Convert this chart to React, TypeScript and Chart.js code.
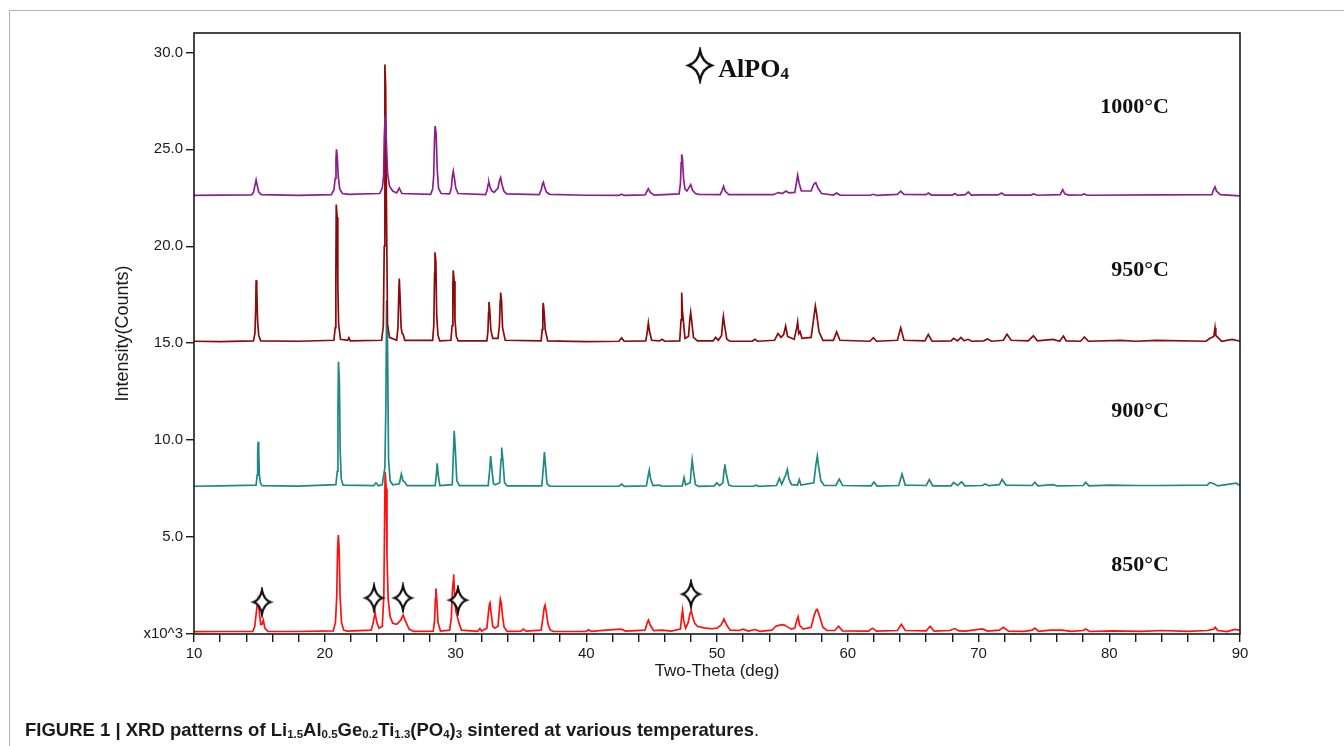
import React, { useEffect, useRef } from 'react';
import { Chart, registerables } from 'chart.js';
Chart.register(...registerables);

type P = [number, number];

// 2θ (deg) vs intensity (x10^3 counts)
const pattern1000: P[] = [
  [10, 22.62], [12, 22.64], [14.4, 22.65], [14.55, 22.78], [14.65, 23.1], [14.75, 23.42], [14.85, 23.1], [14.95, 22.8], [15.15, 22.66],
  [18, 22.62], [20.5, 22.66], [20.7, 22.9], [20.8, 23.5], [20.86, 24.5], [20.9, 25.0], [20.96, 24.6], [21.03, 23.6], [21.15, 22.95], [21.35, 22.72], [21.6, 22.7], [21.8, 22.68],
  [24.2, 22.72], [24.4, 23.0], [24.5, 23.6], [24.55, 25.6], [24.62, 26.75], [24.7, 25.6], [24.8, 23.8], [24.95, 23.1], [25.2, 22.85], [25.5, 22.75], [25.7, 23.0], [25.9, 22.72],
  [28.1, 22.68], [28.25, 22.95], [28.33, 23.6], [28.4, 25.6], [28.44, 26.2], [28.52, 25.8], [28.6, 24.0], [28.7, 23.0], [28.9, 22.72],
  [29.55, 22.7], [29.68, 23.0], [29.76, 23.6], [29.83, 23.87], [29.92, 23.5], [30.02, 23.0], [30.2, 22.72],
  [32.3, 22.66], [32.42, 22.9], [32.5, 23.2], [32.56, 23.3], [32.65, 23.05], [32.78, 22.85], [32.95, 22.78], [33.25, 23.0], [33.37, 23.4], [33.45, 23.54], [33.55, 23.2], [33.7, 22.85], [33.9, 22.7],
  [36.4, 22.66], [36.55, 22.9], [36.65, 23.2], [36.72, 23.3], [36.82, 23.05], [36.95, 22.8], [37.2, 22.68],
  [40, 22.63], [42.5, 22.62], [42.7, 22.68], [42.9, 22.62],
  [44.5, 22.65], [44.65, 22.85], [44.75, 22.97], [44.9, 22.78], [45.2, 22.64],
  [47.1, 22.7], [47.2, 23.2], [47.26, 24.3], [47.3, 24.74], [47.36, 24.5], [47.44, 23.5], [47.55, 22.95], [47.7, 22.85], [47.88, 23.05], [47.99, 23.18], [48.12, 22.9], [48.35, 22.72], [48.6, 22.68],
  [50.25, 22.66], [50.4, 22.9], [50.5, 23.09], [50.62, 22.85], [50.9, 22.66],
  [54.3, 22.66], [54.7, 22.77], [55.0, 22.72], [55.28, 22.85], [55.5, 22.75], [55.95, 22.78], [56.08, 23.3], [56.17, 23.66], [56.28, 23.25], [56.45, 22.85],
  [57.2, 22.85], [57.4, 23.2], [57.55, 23.28], [57.72, 23.0], [58.0, 22.72],
  [58.9, 22.64], [59.15, 22.75], [59.4, 22.64], [61.7, 22.63], [61.96, 22.68], [62.2, 22.62],
  [63.8, 22.68], [64.05, 22.84], [64.3, 22.68], [66.0, 22.66], [66.16, 22.75], [66.4, 22.64],
  [68.0, 22.64], [68.2, 22.72], [68.4, 22.62], [69.0, 22.66], [69.22, 22.8], [69.45, 22.64],
  [70.3, 22.65], [71.5, 22.65], [71.77, 22.75], [72.0, 22.64], [74.0, 22.64], [74.2, 22.7], [74.5, 22.63],
  [76.25, 22.66], [76.44, 22.92], [76.6, 22.7], [76.9, 22.64], [77.9, 22.65], [78.1, 22.7], [78.3, 22.63],
  [83.75, 22.65], [87.85, 22.66], [88.0, 22.95], [88.09, 23.06], [88.2, 22.85], [88.5, 22.66], [90, 22.6],
];

const pattern950: P[] = [
  [10, 15.1], [12, 15.08], [14.55, 15.12], [14.66, 15.5], [14.72, 16.8], [14.75, 18.25], [14.8, 17.8], [14.86, 16.2], [14.95, 15.4], [15.1, 15.12],
  [18, 15.1], [20.7, 15.15], [20.8, 15.8], [20.85, 18.5], [20.88, 22.15], [20.95, 21.5], [21.0, 18.0], [21.06, 16.0], [21.2, 15.2], [21.75, 15.15], [21.85, 15.28], [21.95, 15.12],
  [24.35, 15.15], [24.48, 15.9], [24.55, 20.0], [24.6, 29.38], [24.66, 28.2], [24.72, 22.0], [24.8, 16.0], [24.95, 15.3],
  [25.5, 15.15], [25.6, 15.8], [25.66, 17.5], [25.7, 18.33], [25.76, 17.4], [25.84, 15.8], [25.92, 15.5], [26.0, 15.45], [26.12, 15.15],
  [28.25, 15.15], [28.34, 15.9], [28.4, 18.6], [28.43, 19.69], [28.5, 19.2], [28.56, 16.5], [28.66, 15.4], [28.8, 15.12],
  [29.65, 15.15], [29.74, 15.9], [29.8, 18.0], [29.83, 18.76], [29.9, 18.2], [29.96, 16.2], [30.06, 15.35], [30.2, 15.12],
  [32.4, 15.12], [32.48, 15.6], [32.53, 16.6], [32.56, 17.13], [32.62, 16.7], [32.7, 15.7], [32.85, 15.25],
  [33.25, 15.25], [33.36, 15.9], [33.42, 17.2], [33.45, 17.61], [33.52, 17.2], [33.6, 15.8], [33.8, 15.15],
  [36.55, 15.12], [36.63, 15.7], [36.68, 16.7], [36.71, 17.08], [36.78, 16.6], [36.86, 15.7], [37.05, 15.12],
  [40, 15.08], [42.5, 15.1], [42.71, 15.27], [42.9, 15.1],
  [44.55, 15.12], [44.66, 15.55], [44.75, 16.05], [44.84, 15.6], [45.0, 15.15], [45.6, 15.12], [45.8, 15.2], [46.0, 15.1],
  [47.15, 15.12], [47.25, 16.2], [47.3, 17.61], [47.36, 16.6], [47.42, 16.2], [47.55, 15.25], [47.82, 15.35], [47.92, 16.2], [47.99, 16.58], [48.07, 16.1], [48.2, 15.3], [48.5, 15.12],
  [49.7, 15.12], [49.9, 15.3], [50.1, 15.15], [50.35, 15.4], [50.45, 16.2], [50.49, 16.39], [50.58, 15.9], [50.75, 15.2], [51.0, 15.1],
  [52.7, 15.1], [52.9, 15.2], [53.1, 15.1],
  [54.4, 15.15], [54.66, 15.5], [54.9, 15.3], [55.1, 15.45], [55.25, 15.88], [55.4, 15.35], [55.9, 15.2], [56.1, 15.8], [56.17, 16.1], [56.25, 15.5], [56.35, 15.6], [56.5, 15.25],
  [57.2, 15.3], [57.4, 16.3], [57.52, 16.92], [57.6, 16.6], [57.8, 15.6], [58.1, 15.15],
  [58.9, 15.15], [59.15, 15.58], [59.4, 15.15], [61.7, 15.1], [61.96, 15.28], [62.2, 15.1],
  [63.8, 15.15], [64.05, 15.79], [64.3, 15.15], [65.9, 15.12], [66.16, 15.45], [66.45, 15.1],
  [67.9, 15.12], [68.1, 15.25], [68.4, 15.12], [68.66, 15.3], [68.9, 15.12], [69.2, 15.2], [69.5, 15.1],
  [70.4, 15.12], [70.69, 15.22], [71.0, 15.1], [71.9, 15.15], [72.18, 15.46], [72.5, 15.15],
  [73.8, 15.12], [74.2, 15.38], [74.5, 15.12], [75.7, 15.2], [76.2, 15.1], [76.5, 15.37], [76.7, 15.12],
  [77.8, 15.1], [78.1, 15.32], [78.4, 15.1], [80.9, 15.15], [82, 15.1], [83.6, 15.15],
  [87.4, 15.1], [87.7, 15.25], [88.0, 15.35], [88.09, 15.8], [88.15, 15.4], [88.3, 15.3], [88.6, 15.1], [89.4, 15.2], [90, 15.1],
];

const pattern900: P[] = [
  [10, 7.62], [12, 7.64], [14.75, 7.68], [14.83, 8.2], [14.87, 9.3], [14.9, 9.92], [14.95, 9.4], [15.0, 8.2], [15.08, 7.8], [15.2, 7.65],
  [18, 7.63], [20.85, 7.7], [20.96, 8.4], [21.01, 11.5], [21.05, 14.04], [21.12, 13.0], [21.18, 9.5], [21.26, 8.0], [21.4, 7.68],
  [23.75, 7.65], [23.92, 7.8], [24.1, 7.65], [24.4, 7.7], [24.6, 8.6], [24.68, 12.0], [24.73, 17.2], [24.8, 15.0], [24.88, 9.0], [25.0, 7.9], [25.2, 7.7],
  [25.7, 7.75], [25.86, 8.25], [25.98, 7.9], [26.1, 7.85], [26.3, 7.65],
  [28.45, 7.65], [28.55, 8.3], [28.6, 8.8], [28.68, 8.2], [28.8, 7.65],
  [29.75, 7.7], [29.85, 9.5], [29.9, 10.48], [29.98, 9.6], [30.1, 7.9], [30.3, 7.65],
  [32.5, 7.65], [32.62, 8.5], [32.69, 9.18], [32.77, 8.6], [32.9, 7.75], [33.05, 7.7],
  [33.38, 7.8], [33.48, 9.0], [33.53, 9.62], [33.62, 9.0], [33.75, 7.8], [33.95, 7.64],
  [36.6, 7.64], [36.72, 8.6], [36.8, 9.38], [36.88, 8.7], [37.0, 7.75], [37.2, 7.63],
  [40, 7.62], [42.5, 7.62], [42.7, 7.73], [42.9, 7.62],
  [44.6, 7.64], [44.72, 8.1], [44.82, 8.45], [44.92, 8.0], [45.1, 7.66], [45.6, 7.68], [45.8, 7.62],
  [47.35, 7.64], [47.48, 8.07], [47.6, 7.7], [47.95, 7.8], [48.05, 8.6], [48.1, 8.97], [48.18, 8.5], [48.35, 7.7], [48.6, 7.62],
  [49.8, 7.64], [49.98, 7.8], [50.2, 7.66], [50.45, 7.8], [50.55, 8.5], [50.6, 8.75], [50.7, 8.3], [50.9, 7.68], [51.2, 7.62],
  [52.8, 7.62], [53.0, 7.68], [53.2, 7.62],
  [54.55, 7.66], [54.77, 8.03], [54.95, 7.72], [55.25, 8.2], [55.38, 8.49], [55.5, 8.0], [55.7, 7.7], [56.15, 7.68], [56.3, 7.97], [56.42, 7.68],
  [57.4, 7.8], [57.58, 8.8], [57.67, 9.18], [57.78, 8.6], [57.95, 7.9], [58.2, 7.66],
  [59.1, 7.66], [59.35, 7.99], [59.6, 7.66], [61.8, 7.64], [62.0, 7.84], [62.25, 7.63],
  [63.9, 7.66], [64.15, 8.25], [64.4, 7.68], [66.0, 7.66], [66.24, 7.97], [66.5, 7.64],
  [67.9, 7.64], [68.1, 7.82], [68.4, 7.66], [68.7, 7.85], [68.95, 7.64], [70.3, 7.66], [70.5, 7.74], [70.8, 7.65],
  [71.6, 7.7], [71.8, 7.97], [72.1, 7.68], [74.1, 7.66], [74.3, 7.82], [74.55, 7.64], [75.7, 7.7], [76.0, 7.64],
  [78.0, 7.66], [78.2, 7.82], [78.45, 7.64], [80.0, 7.68], [82.0, 7.66], [84.0, 7.66],
  [87.5, 7.68], [87.7, 7.82], [88.0, 7.75], [88.3, 7.64], [89.7, 7.78], [90, 7.66],
];

const pattern850: P[] = [
  [10, 0.12], [12, 0.13], [14.5, 0.14], [14.65, 0.4], [14.78, 1.2], [14.89, 1.73], [15.0, 1.1], [15.1, 0.5], [15.2, 0.5], [15.3, 0.72], [15.42, 0.3], [15.65, 0.14],
  [18, 0.13], [20.65, 0.16], [20.82, 0.6], [20.92, 2.0], [20.98, 4.3], [21.04, 5.1], [21.1, 4.4], [21.17, 2.0], [21.28, 0.6], [21.45, 0.2], [21.7, 0.15],
  [23.55, 0.2], [23.7, 0.55], [23.85, 1.1], [23.98, 0.6], [24.15, 0.3], [24.4, 0.4], [24.52, 2.0], [24.58, 6.0], [24.62, 8.37], [24.7, 7.5], [24.76, 4.0], [24.85, 1.8], [25.0, 0.9],
  [25.2, 0.55], [25.5, 0.5], [25.8, 0.7], [26.0, 0.98], [26.15, 0.7], [26.45, 0.25], [26.8, 0.14],
  [28.3, 0.15], [28.4, 0.7], [28.46, 1.8], [28.5, 2.35], [28.57, 1.8], [28.66, 0.6], [28.85, 0.15],
  [29.55, 0.2], [29.68, 0.8], [29.76, 2.2], [29.82, 2.7], [29.86, 3.08], [29.93, 2.0], [30.02, 1.2], [30.12, 0.95], [30.25, 0.6], [30.45, 0.2],
  [31.7, 0.14], [31.87, 0.29], [32.0, 0.15], [32.4, 0.3], [32.52, 1.1], [32.6, 1.55], [32.64, 1.61], [32.72, 1.1], [32.85, 0.4], [33.0, 0.3],
  [33.25, 0.4], [33.36, 1.3], [33.43, 1.79], [33.5, 1.6], [33.6, 0.9], [33.72, 0.35], [33.95, 0.14],
  [35.0, 0.15], [35.19, 0.25], [35.4, 0.15], [36.55, 0.2], [36.68, 0.8], [36.78, 1.35], [36.85, 1.49], [36.95, 1.1], [37.08, 0.5], [37.25, 0.2], [37.5, 0.13],
  [40.0, 0.13], [40.16, 0.22], [40.4, 0.14], [41.5, 0.2], [42.7, 0.25], [43.0, 0.15],
  [44.5, 0.2], [44.65, 0.55], [44.76, 0.72], [44.9, 0.45], [45.15, 0.18], [45.8, 0.2], [46.5, 0.15],
  [47.2, 0.25], [47.3, 0.9], [47.37, 1.24], [47.45, 0.7], [47.6, 0.3], [47.8, 0.6], [47.95, 1.1], [48.03, 1.2], [48.15, 0.85], [48.3, 0.55], [48.5, 0.4],
  [49.0, 0.32], [49.6, 0.27], [50.0, 0.3], [50.3, 0.45], [50.53, 0.77], [50.75, 0.45], [51.0, 0.2],
  [51.7, 0.18], [52.0, 0.25], [52.4, 0.15], [52.9, 0.23], [53.3, 0.14],
  [54.2, 0.2], [54.5, 0.4], [54.8, 0.46], [55.1, 0.48], [55.35, 0.38], [55.7, 0.25], [55.95, 0.3], [56.1, 0.7], [56.2, 0.89], [56.32, 0.45], [56.6, 0.25],
  [57.2, 0.35], [57.45, 1.0], [57.6, 1.25], [57.67, 1.27], [57.85, 0.9], [58.1, 0.35], [58.4, 0.18],
  [59.0, 0.18], [59.3, 0.4], [59.6, 0.16], [61.6, 0.15], [61.9, 0.3], [62.2, 0.15],
  [63.8, 0.18], [64.1, 0.5], [64.4, 0.18], [66.0, 0.16], [66.3, 0.4], [66.6, 0.15],
  [67.8, 0.18], [68.2, 0.28], [68.5, 0.16], [69.0, 0.15], [70.3, 0.26], [70.7, 0.15],
  [71.6, 0.2], [71.9, 0.34], [72.3, 0.15], [73.5, 0.14], [74.1, 0.2], [74.3, 0.3], [74.6, 0.14],
  [75.5, 0.2], [76.4, 0.2], [77.1, 0.14], [78.0, 0.18], [78.2, 0.26], [78.5, 0.13],
  [80.2, 0.16], [82.5, 0.14], [84.0, 0.18], [86.0, 0.14], [87.5, 0.18], [88.0, 0.25], [88.1, 0.35], [88.3, 0.18],
  [89.0, 0.12], [89.6, 0.24], [90, 0.2],
];

const patterns: P[][] = [pattern1000, pattern950, pattern900, pattern850];
const temperatureLabels = ['1000°C', '950°C', '900°C', '850°C'];
const seriesColors = ['#8E1E8E', '#8B0A0A', '#1E8884', '#FF1010'];
const labelY = [27.16, 18.76, 11.49, 3.56];
const labelRightX = 84.57;

// AlPO4 impurity markers on the 850 °C pattern
const alpo4Markers: P[] = [[15.2, 1.65], [23.77, 1.86], [25.98, 1.86], [30.19, 1.75], [48.01, 2.06]];
const legendMarker: P[] = [[48.7, 29.33]];
const legendTextX = 50.1;
const legendTextY = 29.2;

const xMin = 10, xMax = 90, xStep = 2, xLabelEvery = 10;
const yMin = 0, yMax = 31, yStep = 5;
const xTitle = 'Two-Theta (deg)';
const yTitle = 'Intensity(Counts)';
const yZeroLabel = 'x10^3';

function makeStar(w: number, h: number, lw: number): HTMLCanvasElement {
  const c = document.createElement('canvas');
  c.width = Math.ceil(w + lw * 2 + 2);
  c.height = Math.ceil(h + lw * 2 + 2);
  const g = c.getContext('2d')!;
  const cx = c.width / 2, cy = c.height / 2;
  const k = 0.1;
  g.beginPath();
  g.moveTo(cx, cy - h / 2);
  g.quadraticCurveTo(cx + w * k, cy - h * k, cx + w / 2, cy);
  g.quadraticCurveTo(cx + w * k, cy + h * k, cx, cy + h / 2);
  g.quadraticCurveTo(cx - w * k, cy + h * k, cx - w / 2, cy);
  g.quadraticCurveTo(cx - w * k, cy - h * k, cx, cy - h / 2);
  g.closePath();
  g.fillStyle = '#fff';
  g.fill();
  g.lineWidth = lw;
  g.lineJoin = 'miter';
  g.strokeStyle = '#111';
  g.stroke();
  return c;
}

const SANS = 'Arial, "Liberation Sans", sans-serif';
const SERIF = '"Liberation Serif", "Times New Roman", serif';

export default function App() {
  const ref = useRef<HTMLCanvasElement | null>(null);
  useEffect(() => {
    if (!ref.current) return;
    const smallStar = makeStar(17, 24, 2.2);
    const bigStar = makeStar(23, 30, 2.4);

    const annotations = {
      id: 'annotations',
      afterDatasetsDraw(chart: any) {
        const { ctx, chartArea: a, scales } = chart;
        const x = scales.x, y = scales.y;
        ctx.save();
        ctx.strokeStyle = '#1a1a1a';
        ctx.lineWidth = 1.6;
        ctx.strokeRect(a.left, a.top, a.right - a.left, a.bottom - a.top);
        ctx.fillStyle = '#111';
        ctx.font = `bold 22px ${SERIF}`;
        ctx.textAlign = 'right';
        ctx.textBaseline = 'middle';
        temperatureLabels.forEach((t, i) => {
          ctx.fillText(t, x.getPixelForValue(labelRightX), y.getPixelForValue(labelY[i]));
        });
        ctx.textAlign = 'left';
        ctx.textBaseline = 'alphabetic';
        ctx.font = `bold 26px ${SERIF}`;
        const lx = x.getPixelForValue(legendTextX);
        const ly = y.getPixelForValue(legendTextY) + 9;
        ctx.fillText('AlPO', lx, ly);
        const w = ctx.measureText('AlPO').width;
        ctx.font = `bold 17px ${SERIF}`;
        ctx.fillText('4', lx + w, ly + 2);
        ctx.restore();
      },
    };

    const datasets: any[] = patterns.map((p, i) => ({
      type: 'line',
      label: temperatureLabels[i],
      data: p.map(([a, b]) => ({ x: a, y: b })),
      borderColor: seriesColors[i],
      borderWidth: 1.7,
      pointRadius: 0,
      tension: 0,
      fill: false,
      order: 1 + i,
    }));
    datasets.push({
      type: 'scatter',
      label: 'AlPO4',
      data: alpo4Markers.map(([a, b]) => ({ x: a, y: b })),
      pointStyle: smallStar,
      order: 0,
    });
    datasets.push({
      type: 'scatter',
      label: 'AlPO4 legend',
      data: legendMarker.map(([a, b]) => ({ x: a, y: b })),
      pointStyle: bigStar,
      order: 0,
    });

    const chart = new Chart(ref.current, {
      type: 'line',
      data: { datasets },
      plugins: [annotations],
      options: {
        animation: false,
        responsive: false,
        devicePixelRatio: 1,
        layout: { padding: { left: 108, right: 104, top: 33, bottom: 60 } },
        plugins: { legend: { display: false }, tooltip: { enabled: false } },
        scales: {
          x: {
            type: 'linear',
            min: xMin,
            max: xMax,
            border: { display: false },
            grid: { drawOnChartArea: false, drawTicks: true, tickLength: 8, color: '#1a1a1a', lineWidth: 1.4 },
            ticks: {
              stepSize: xStep,
              autoSkip: false,
              maxRotation: 0,
              includeBounds: false,
              padding: 3,
              color: '#1a1a1a',
              font: { family: SANS, size: 15 },
              callback: (v: any) => (Number(v) % xLabelEvery === 0 ? String(v) : ''),
            },
            title: { display: true, text: xTitle, color: '#1a1a1a', font: { family: SANS, size: 17 }, padding: { top: 4, bottom: 4 } },
            afterFit: (s: any) => { s.height = 52; },
          },
          y: {
            type: 'linear',
            min: yMin,
            max: yMax,
            border: { display: false },
            grid: { drawOnChartArea: false, drawTicks: true, tickLength: 8, color: '#1a1a1a', lineWidth: 1.4 },
            ticks: {
              stepSize: yStep,
              includeBounds: false,
              padding: 3,
              color: '#1a1a1a',
              font: { family: SANS, size: 15 },
              callback: (v: any) => (Number(v) === 0 ? yZeroLabel : Number(v).toFixed(1)),
            },
            title: { display: true, text: yTitle, color: '#1a1a1a', font: { family: SANS, size: 18 }, padding: { top: 4, bottom: 4 } },
            afterFit: (s: any) => { s.width = 86; },
          },
        },
      } as any,
    });
    return () => chart.destroy();
  }, []);

  const sub = { fontSize: '0.62em', verticalAlign: '-0.15em' } as React.CSSProperties;
  return (
    <div style={{ position: 'fixed', left: 0, top: 0, width: 1344, height: 746, background: '#fff', overflow: 'hidden' }}>
      <div style={{ position: 'absolute', left: 9, top: 10, right: 0, bottom: 0, borderLeft: '1.5px solid #b0b0b0', borderTop: '1.5px solid #b0b0b0' }} />
      <canvas ref={ref} width={1344} height={746} style={{ position: 'absolute', left: 0, top: 0, width: 1344, height: 746 }} />
      <div style={{ position: 'absolute', left: 25, top: 719, font: `bold 18.5px ${SANS}`, lineHeight: '22px', color: '#1a1a1a', whiteSpace: 'nowrap' }}>
        FIGURE 1 | XRD patterns of Li<span style={sub}>1.5</span>Al<span style={sub}>0.5</span>Ge<span style={sub}>0.2</span>Ti<span style={sub}>1.3</span>(PO<span style={sub}>4</span>)<span style={sub}>3</span> sintered at various temperatures<span style={{ fontWeight: 'normal' }}>.</span>
      </div>
    </div>
  );
}
